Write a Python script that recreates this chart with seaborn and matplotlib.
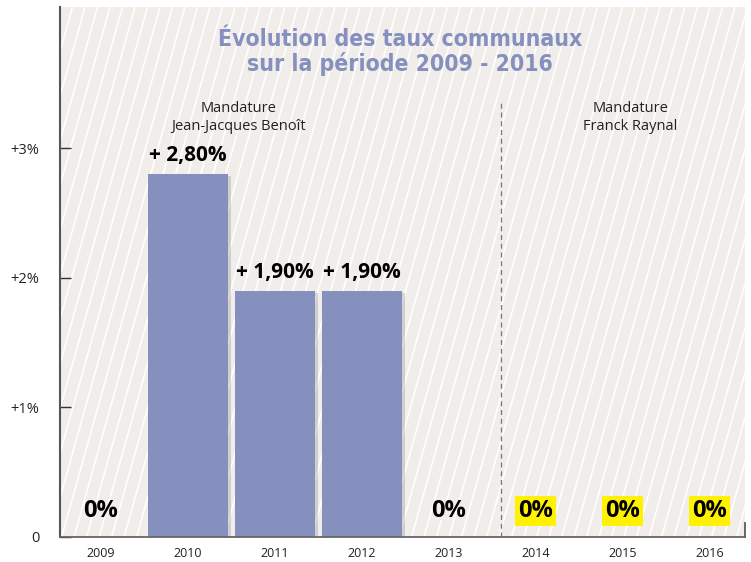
import numpy as np
import pandas as pd
import matplotlib
matplotlib.use("Agg")
import matplotlib.pyplot as plt
import matplotlib.patheffects as pe
import seaborn as sns

sns.set_theme(style="white")
plt.rcParams["font.family"] = ["Open Sans", "DejaVu Sans"]

# donnees
annees = ["2009", "2010", "2011", "2012", "2013", "2014", "2015", "2016"]
taux = [0.0, 2.80, 1.90, 1.90, 0.0, 0.0, 0.0, 0.0]
etiquettes = ["0%", "+ 2,80%", "+ 1,90%", "+ 1,90%", "0%", "0%", "0%", "0%"]
surligne = [False, False, False, False, False, True, True, True]
yticks = [0, 1, 2, 3]
ytick_labels = ["0", "+1%", "+2%", "+3%"]

df = pd.DataFrame({"annee": annees, "taux": taux})

bleu = "#8590BF"
fond = "#F0EDEA"

fig = plt.figure(figsize=(7.51, 5.62), dpi=100)
ax = fig.add_axes([60/751, 25/562, 685/751, 530/562])
ax.set_facecolor(fond)

# rayures du fond
W, H = 685, 530
pente = 0.28
for x0 in np.arange(-H*pente, W, 12.5):
    ax.plot([x0/W, (x0 + H*pente)/W], [0, 1], color="white", lw=1.2,
            transform=ax.transAxes, zorder=0, solid_capstyle="butt")

sns.barplot(data=df, x="annee", y="taux", color=bleu, saturation=1,
            width=0.92, linewidth=0, ax=ax, zorder=2)
for p in ax.patches:
    p.set_path_effects([pe.SimplePatchShadow(offset=(2.5, -1.5), shadow_rgbFace="#888888", alpha=0.3),
                        pe.Normal()])

for i, (v, lab) in enumerate(zip(taux, etiquettes)):
    if v > 0:
        ax.text(i, v + 0.06, lab, ha="center", va="bottom", fontsize=15,
                fontweight="bold", color="black", zorder=4)
    else:
        kw = {}
        if surligne[i]:
            kw["bbox"] = dict(boxstyle="square,pad=0.12", fc="#FFF200", ec="none")
        ax.text(i, 0.2, lab, ha="center", va="center", fontsize=17,
                fontweight="bold", color="black", zorder=4, **kw)

ax.axvline(4.6, ymin=0, ymax=0.825, color="#777777", lw=0.9, ls=(0, (4, 3)), zorder=1)

ax.text(1.58, 3.24, "Mandature\nJean-Jacques Benoît", ha="center", va="center",
        fontsize=10.5, color="#222222", linespacing=1.25)
ax.text(6.09, 3.24, "Mandature\nFranck Raynal", ha="center", va="center",
        fontsize=10.5, color="#222222", linespacing=1.25)

ax.text(0.496, 0.915, "Évolution des taux communaux\nsur la période 2009 - 2016",
        transform=ax.transAxes, ha="center", va="center", fontsize=16.5,
        fontweight="bold", fontstretch="condensed", color=bleu, linespacing=1.05,
        family=["DejaVu Sans"])

ax.set_xlim(-0.47, 7.41)
ax.set_ylim(0, 4.09)
ax.set_yticks(yticks)
ax.set_yticklabels(ytick_labels)
ax.set_xlabel("")
ax.set_ylabel("")
ax.tick_params(axis="y", direction="in", length=8, width=1, color="#333333",
               pad=15, labelsize=10.5, labelcolor="#222222", left=True)
ax.tick_params(axis="x", length=0, pad=7, labelsize=9, labelcolor="#222222")
ax.spines["top"].set_visible(False)
ax.spines["left"].set_color("#555555")
ax.spines["left"].set_linewidth(1.5)
ax.spines["bottom"].set_color("#666666")
ax.spines["bottom"].set_linewidth(1.3)
ax.spines["right"].set_color("#555555")
ax.spines["right"].set_bounds(0, 0.11)

fig.savefig("out.png", dpi=100)
